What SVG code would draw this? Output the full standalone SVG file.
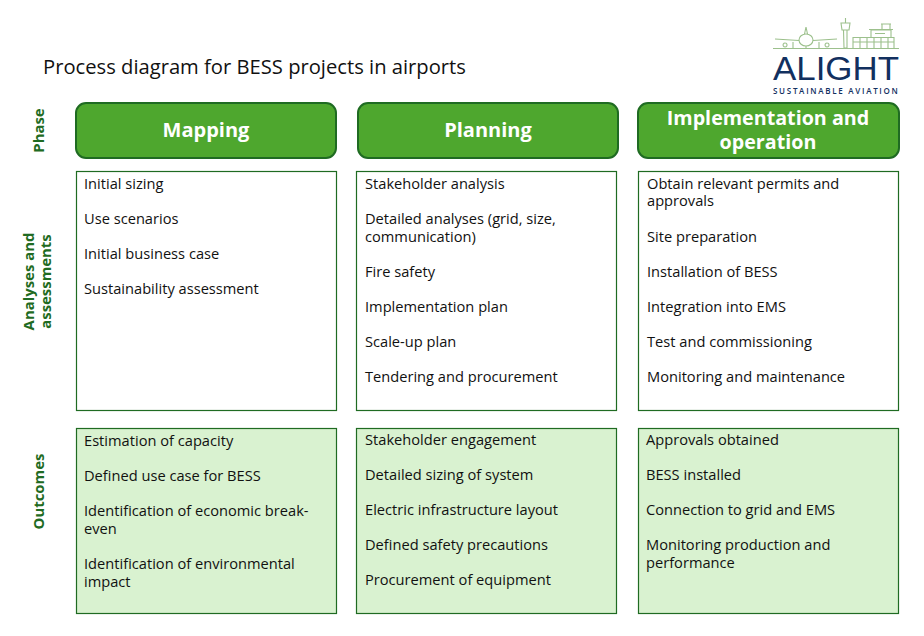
<svg xmlns="http://www.w3.org/2000/svg" width="924" height="636" viewBox="0 0 924 636">
<style>
text{font-family:"Open Sans","Noto Sans","Liberation Sans",sans-serif}
.t{font-size:14.65px;fill:#111}
.ph{fill:#4EA72E;stroke:#1F6B22;stroke-width:2}
.pt{font-size:20px;font-weight:700;fill:#fff;text-anchor:middle}
.w{fill:#fff;stroke:#1F6B22;stroke-width:1.2}
.g{fill:#D9F2D0;stroke:#1F6B22;stroke-width:1.2}
.side{font-size:14.9px;font-weight:700;fill:#1F6B22;text-anchor:middle}
.lg{fill:none;stroke:#9CC08C;stroke-width:1.1}
</style>
<rect width="924" height="636" fill="#fff"/>
<text x="43" y="74" style="font-size:20.2px;fill:#111">Process diagram for BESS projects in airports</text>
<g id="logo">
<path class="lg" d="M773 48.500H899M775 39L799 40.500M813 40.500L837 39M804.500 34L806 27L807.500 34M799 40a7 6 0 0 0 14 0a7 6 0 0 0 -14 0M793 42V48M806 46V48M819 42V48M785 43a2 2 0 1 0 .1 0M827 43a2 2 0 1 0 .1 0M843.500 30H847L847 48H844ZM841 23H850L849 30H842ZM845.500 18V23M853 48V37.500H894V48M853 42H894M860 37.500V48M867 37.500V48M874 37.500V48M881 37.500V48M888 37.500V48M871 37V30H891V37M869 29.500H893M882 29V24H890V29M881 24H891M875 33.500H885"/>
<text x="836" y="79.500" text-anchor="middle" style="font-family:'Liberation Sans',sans-serif;font-size:34px;fill:#12305F" textLength="126" lengthAdjust="spacingAndGlyphs">ALIGHT</text>
<text x="836" y="94" text-anchor="middle" style="font-size:8px;font-weight:600;fill:#12305F;letter-spacing:1.200px" textLength="126">SUSTAINABLE AVIATION</text>
</g>
<g id="labels">
<text class="side" transform="translate(44,130.500) rotate(-90)">Phase</text>
<text class="side" transform="translate(34,281.500) rotate(-90)">Analyses and</text>
<text class="side" transform="translate(51,281.500) rotate(-90)">assessments</text>
<text class="side" transform="translate(44,491.500) rotate(-90)">Outcomes</text>
</g>
<g id="phase-mapping"><rect class="ph" x="76" y="103" width="260" height="55" rx="10"/><text class="pt" x="206" y="137">Mapping</text></g>
<g id="phase-planning"><rect class="ph" x="358" y="103" width="260" height="55" rx="10"/><text class="pt" x="488" y="137">Planning</text></g>
<g id="phase-implementation"><rect class="ph" x="638" y="103" width="261" height="55" rx="10"/><text class="pt" x="768" y="125" style="font-size:19.7px">Implementation and</text><text class="pt" x="768" y="149" style="font-size:19.7px">operation</text></g>
<g id="analyses-mapping"><rect class="w" x="76.500" y="171.500" width="260" height="239"/>
<text class="t" x="84" y="189">Initial sizing</text><text class="t" x="84" y="224">Use scenarios</text><text class="t" x="84" y="259">Initial business case</text><text class="t" x="84" y="294">Sustainability assessment</text></g>
<g id="analyses-planning"><rect class="w" x="356.500" y="171.500" width="260" height="239"/>
<text class="t" x="365" y="189">Stakeholder analysis</text><text class="t" x="365" y="224">Detailed analyses (grid, size,</text><text class="t" x="365" y="242">communication)</text><text class="t" x="365" y="277">Fire safety</text><text class="t" x="365" y="312">Implementation plan</text><text class="t" x="365" y="347">Scale-up plan</text><text class="t" x="365" y="382">Tendering and procurement</text></g>
<g id="analyses-implementation"><rect class="w" x="638.500" y="171.500" width="260" height="239"/>
<text class="t" x="647" y="189">Obtain relevant permits and</text><text class="t" x="647" y="206">approvals</text><text class="t" x="647" y="242">Site preparation</text><text class="t" x="647" y="277">Installation of BESS</text><text class="t" x="647" y="312">Integration into EMS</text><text class="t" x="647" y="347">Test and commissioning</text><text class="t" x="647" y="382">Monitoring and maintenance</text></g>
<g id="outcomes-mapping"><rect class="g" x="76.500" y="428.500" width="260" height="185"/>
<text class="t" x="84" y="446">Estimation of capacity</text><text class="t" x="84" y="481">Defined use case for BESS</text><text class="t" x="84" y="516">Identification of economic break-</text><text class="t" x="84" y="534">even</text><text class="t" x="84" y="569">Identification of environmental</text><text class="t" x="84" y="587">impact</text></g>
<g id="outcomes-planning"><rect class="g" x="356.500" y="428.500" width="260" height="185"/>
<text class="t" x="365" y="445">Stakeholder engagement</text><text class="t" x="365" y="480">Detailed sizing of system</text><text class="t" x="365" y="515">Electric infrastructure layout</text><text class="t" x="365" y="550">Defined safety precautions</text><text class="t" x="365" y="585">Procurement of equipment</text></g>
<g id="outcomes-implementation"><rect class="g" x="638.500" y="428.500" width="260" height="185"/>
<text class="t" x="646" y="445">Approvals obtained</text><text class="t" x="646" y="480">BESS installed</text><text class="t" x="646" y="515">Connection to grid and EMS</text><text class="t" x="646" y="550">Monitoring production and</text><text class="t" x="646" y="568">performance</text></g>
<g id="connectors"></g>
</svg>
